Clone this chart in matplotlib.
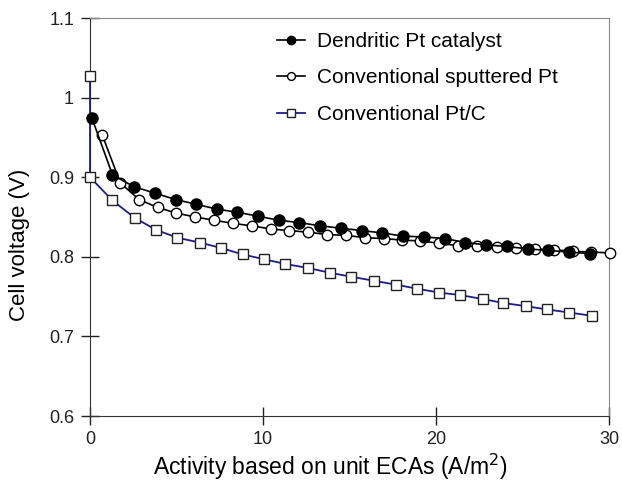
import matplotlib
matplotlib.use("Agg")
import matplotlib.pyplot as plt

plt.rcParams['font.family'] = ['Liberation Sans', 'DejaVu Sans']

# Dendritic Pt catalyst (filled circles)
dend_x = [0.1, 1.3, 2.55, 3.76, 4.95, 6.15, 7.32, 8.51, 9.73, 10.9, 12.1, 13.3,
          14.5, 15.7, 16.9, 18.1, 19.3, 20.5, 21.7, 22.9, 24.1, 25.3, 26.5, 27.7, 28.9]
dend_v = [0.975, 0.903, 0.888, 0.880, 0.872, 0.866, 0.860, 0.856, 0.851, 0.846, 0.843, 0.839,
          0.836, 0.833, 0.830, 0.826, 0.825, 0.823, 0.818, 0.815, 0.813, 0.810, 0.808, 0.806, 0.804]

# Conventional sputtered Pt (open circles)
sput_x = [0.71, 1.75, 2.83, 3.91, 4.99, 6.09, 7.17, 8.27, 9.34, 10.46, 11.5, 12.6,
          13.7, 14.8, 15.9, 17.0, 18.05, 19.1, 20.2, 21.3, 22.4, 23.5, 24.6, 25.7,
          26.8, 27.9, 28.95, 30.05]
sput_v = [0.953, 0.893, 0.872, 0.862, 0.855, 0.850, 0.846, 0.842, 0.839, 0.835, 0.833, 0.831,
          0.828, 0.827, 0.824, 0.823, 0.821, 0.820, 0.817, 0.814, 0.813, 0.812, 0.811, 0.810,
          0.809, 0.807, 0.806, 0.805]

# Conventional Pt/C (open squares)
ptc_x = [0.0, 0.0, 1.29, 2.58, 3.81, 5.05, 6.34, 7.6, 8.83, 10.06, 11.3, 12.6, 13.87,
         15.1, 16.4, 17.7, 18.9, 20.2, 21.4, 22.7, 23.9, 25.2, 26.4, 27.7, 29.0]
ptc_v = [1.027, 0.900, 0.871, 0.849, 0.834, 0.824, 0.818, 0.811, 0.803, 0.797, 0.791, 0.786,
         0.780, 0.775, 0.770, 0.765, 0.760, 0.755, 0.752, 0.747, 0.742, 0.738, 0.734, 0.730, 0.726]

fig = plt.figure(figsize=(6.22, 4.88), dpi=100)
ax = fig.add_axes([0.1447, 0.1475, 0.8343, 0.8155])

ax.plot(ptc_x, ptc_v, color='#1c1c8a', lw=1.3, marker='s', ms=7.5, clip_on=False,
        mfc='white', mec='#222222', mew=1.0, label='Conventional Pt/C', zorder=3)
ax.plot(sput_x, sput_v, color='black', lw=1.2, marker='o', ms=7.5, clip_on=False,
        mfc='white', mec='black', mew=1.0, label='Conventional sputtered Pt', zorder=4)
ax.plot(dend_x, dend_v, color='black', lw=1.2, marker='o', ms=8, clip_on=False,
        mfc='black', mec='black', label='Dendritic Pt catalyst', zorder=5)

ax.set_xlim(0, 30)
ax.set_ylim(0.6, 1.1)
ax.set_xticks([0, 10, 20, 30])
ax.set_yticks([0.6, 0.7, 0.8, 0.9, 1.0, 1.1])
ax.set_yticklabels(['0.6', '0.7', '0.8', '0.9', '1', '1.1'])
ax.tick_params(direction='inout', length=13, width=1, labelsize=13, colors='#222222')
ax.tick_params(axis='y', pad=5)
ax.tick_params(axis='x', pad=4)
for s in ['left', 'bottom']:
    ax.spines[s].set_color('#333333')
for s in ['top', 'right']:
    ax.spines[s].set_color('#888888')

ax.set_xlabel('Activity based on unit ECAs (A/m$^2$)', fontsize=16.5)
ax.set_ylabel('Cell voltage (V)', fontsize=16)
ax.xaxis.set_label_coords(0.464, -0.128, transform=ax.transAxes)
ax.yaxis.set_label_coords(-0.135, 0.43, transform=ax.transAxes)
ax.xaxis.label.set_va('center')
ax.yaxis.label.set_va('center')

handles, labels = ax.get_legend_handles_labels()
ax.legend(handles[::-1], labels[::-1], loc='upper left', frameon=False, fontsize=15,
          handlelength=1.35, handletextpad=0.58, labelspacing=0.84,
          borderpad=0, borderaxespad=0,
          bbox_to_anchor=(0.36, 0.965), markerscale=0.75)

fig.savefig('out.png', dpi=100)
